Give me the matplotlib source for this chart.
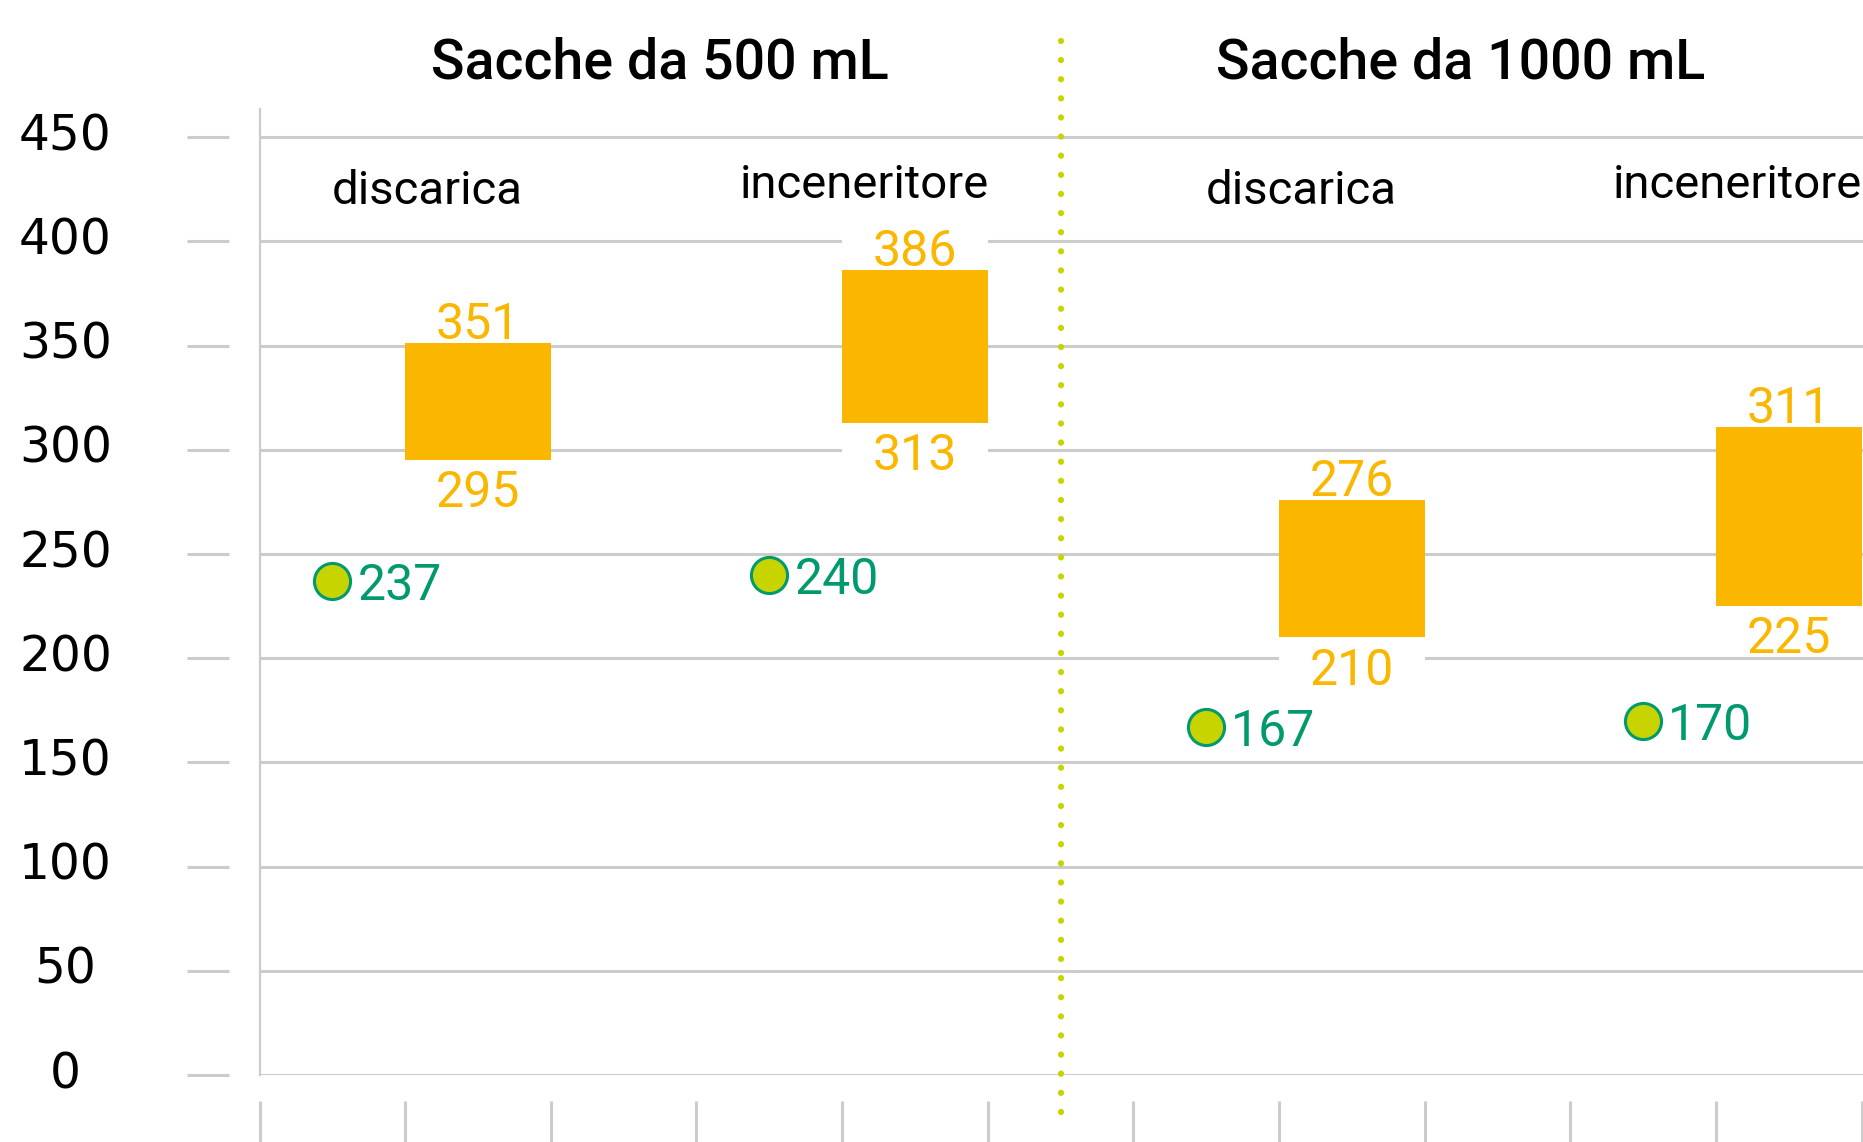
import matplotlib
matplotlib.use("Agg")
import matplotlib.pyplot as plt

# --- data ---
groups = ["Sacche da 500 mL", "Sacche da 1000 mL"]
categories = ["discarica", "inceneritore", "discarica", "inceneritore"]
range_low = [295, 313, 210, 225]
range_high = [351, 386, 276, 311]
point_vals = [237, 240, 167, 170]
y_ticks = [0, 50, 100, 150, 200, 250, 300, 350, 400, 450]

BOX = "#FBB600"
GREEN = "#009A6E"
LIME = "#C8D400"
GRID = "#CCCCCC"

plt.rcParams["font.family"] = ["Roboto", "DejaVu Sans"]

fig = plt.figure(figsize=(18.63, 11.42), dpi=100)
ax = fig.add_axes([0.1393, 0.0587, 0.8607, 0.8459])
ax.set_xlim(0, 11.01)
ax.set_ylim(0, 463.5)

# gridlines
ax.set_yticks(y_ticks)
ax.set_yticklabels([])
ax.set_xticks([])
ax.tick_params(axis="y", length=0)
ax.grid(axis="y", color=GRID, linewidth=2.2)
ax.set_axisbelow(True)
for side in ["top", "right", "bottom"]:
    ax.spines[side].set_visible(False)
ax.spines["left"].set_color(GRID)
ax.spines["left"].set_linewidth(1.6)

# detached y tick dashes + labels
ax.hlines(y_ticks, -0.0454, -0.019, transform=ax.get_yaxis_transform(),
          color=GRID, linewidth=2.2, clip_on=False)
for v in y_ticks:
    ax.annotate(str(v), (-0.121, v), xycoords=ax.get_yaxis_transform(),
                xytext=(0, -9.5), textcoords="offset points",
                ha="center", va="baseline", fontsize=35,
                family="DejaVu Sans", color="black", annotation_clip=False)

# detached x tick marks below the axis
n_slots = 3 * len(categories)
ax.vlines(range(n_slots), -0.027, -0.08, transform=ax.get_xaxis_transform(),
          color=GRID, linewidth=2.2, clip_on=False)

pad = 19  # white backing behind range labels (data units)
for i, cat in enumerate(categories):
    start = 3 * i
    lo, hi = range_low[i], range_high[i]
    xc = start + 1.5
    # white backing that hides gridlines behind labels
    ax.bar(xc, pad, width=1, bottom=hi, color="white", zorder=1)
    ax.bar(xc, pad, width=1, bottom=lo - pad, color="white", zorder=1)
    ax.bar(xc, hi - lo, width=1, bottom=lo, color=BOX, zorder=2)
    ax.annotate(str(hi), (xc, hi), xytext=(0, 3), textcoords="offset points",
                ha="center", va="baseline", fontsize=36, color=BOX, zorder=4)
    ax.annotate(str(lo), (xc, lo), xytext=(0, -34), textcoords="offset points",
                ha="center", va="baseline", fontsize=36, color=BOX, zorder=4)

    xp = start + 0.5
    ax.plot(xp, point_vals[i], "o", markersize=26, markerfacecolor=LIME,
            markeredgecolor=GREEN, markeredgewidth=2.2, zorder=3)
    ax.annotate(str(point_vals[i]), (xp, point_vals[i]), xytext=(18, 0),
                textcoords="offset points", ha="left", va="center_baseline",
                fontsize=36, color=GREEN, zorder=4)

    cat_y = 418 if cat == "discarica" else 421
    ax.text(start + 1.15, cat_y, cat, ha="center", va="baseline",
            fontsize=34, color="black")

# group titles and divider
for g, name in enumerate(groups):
    ax.text(2.75 + 5.5 * g, 478, name, ha="center", va="baseline",
            fontsize=40, fontweight="medium", color="black", clip_on=False)

ax.plot([5.5, 5.5], [-18, 503], color=LIME, linewidth=4.5,
        linestyle=(0, (0.01, 3.05)), dash_capstyle="round",
        clip_on=False, zorder=3)

fig.savefig("out.png", dpi=100)
